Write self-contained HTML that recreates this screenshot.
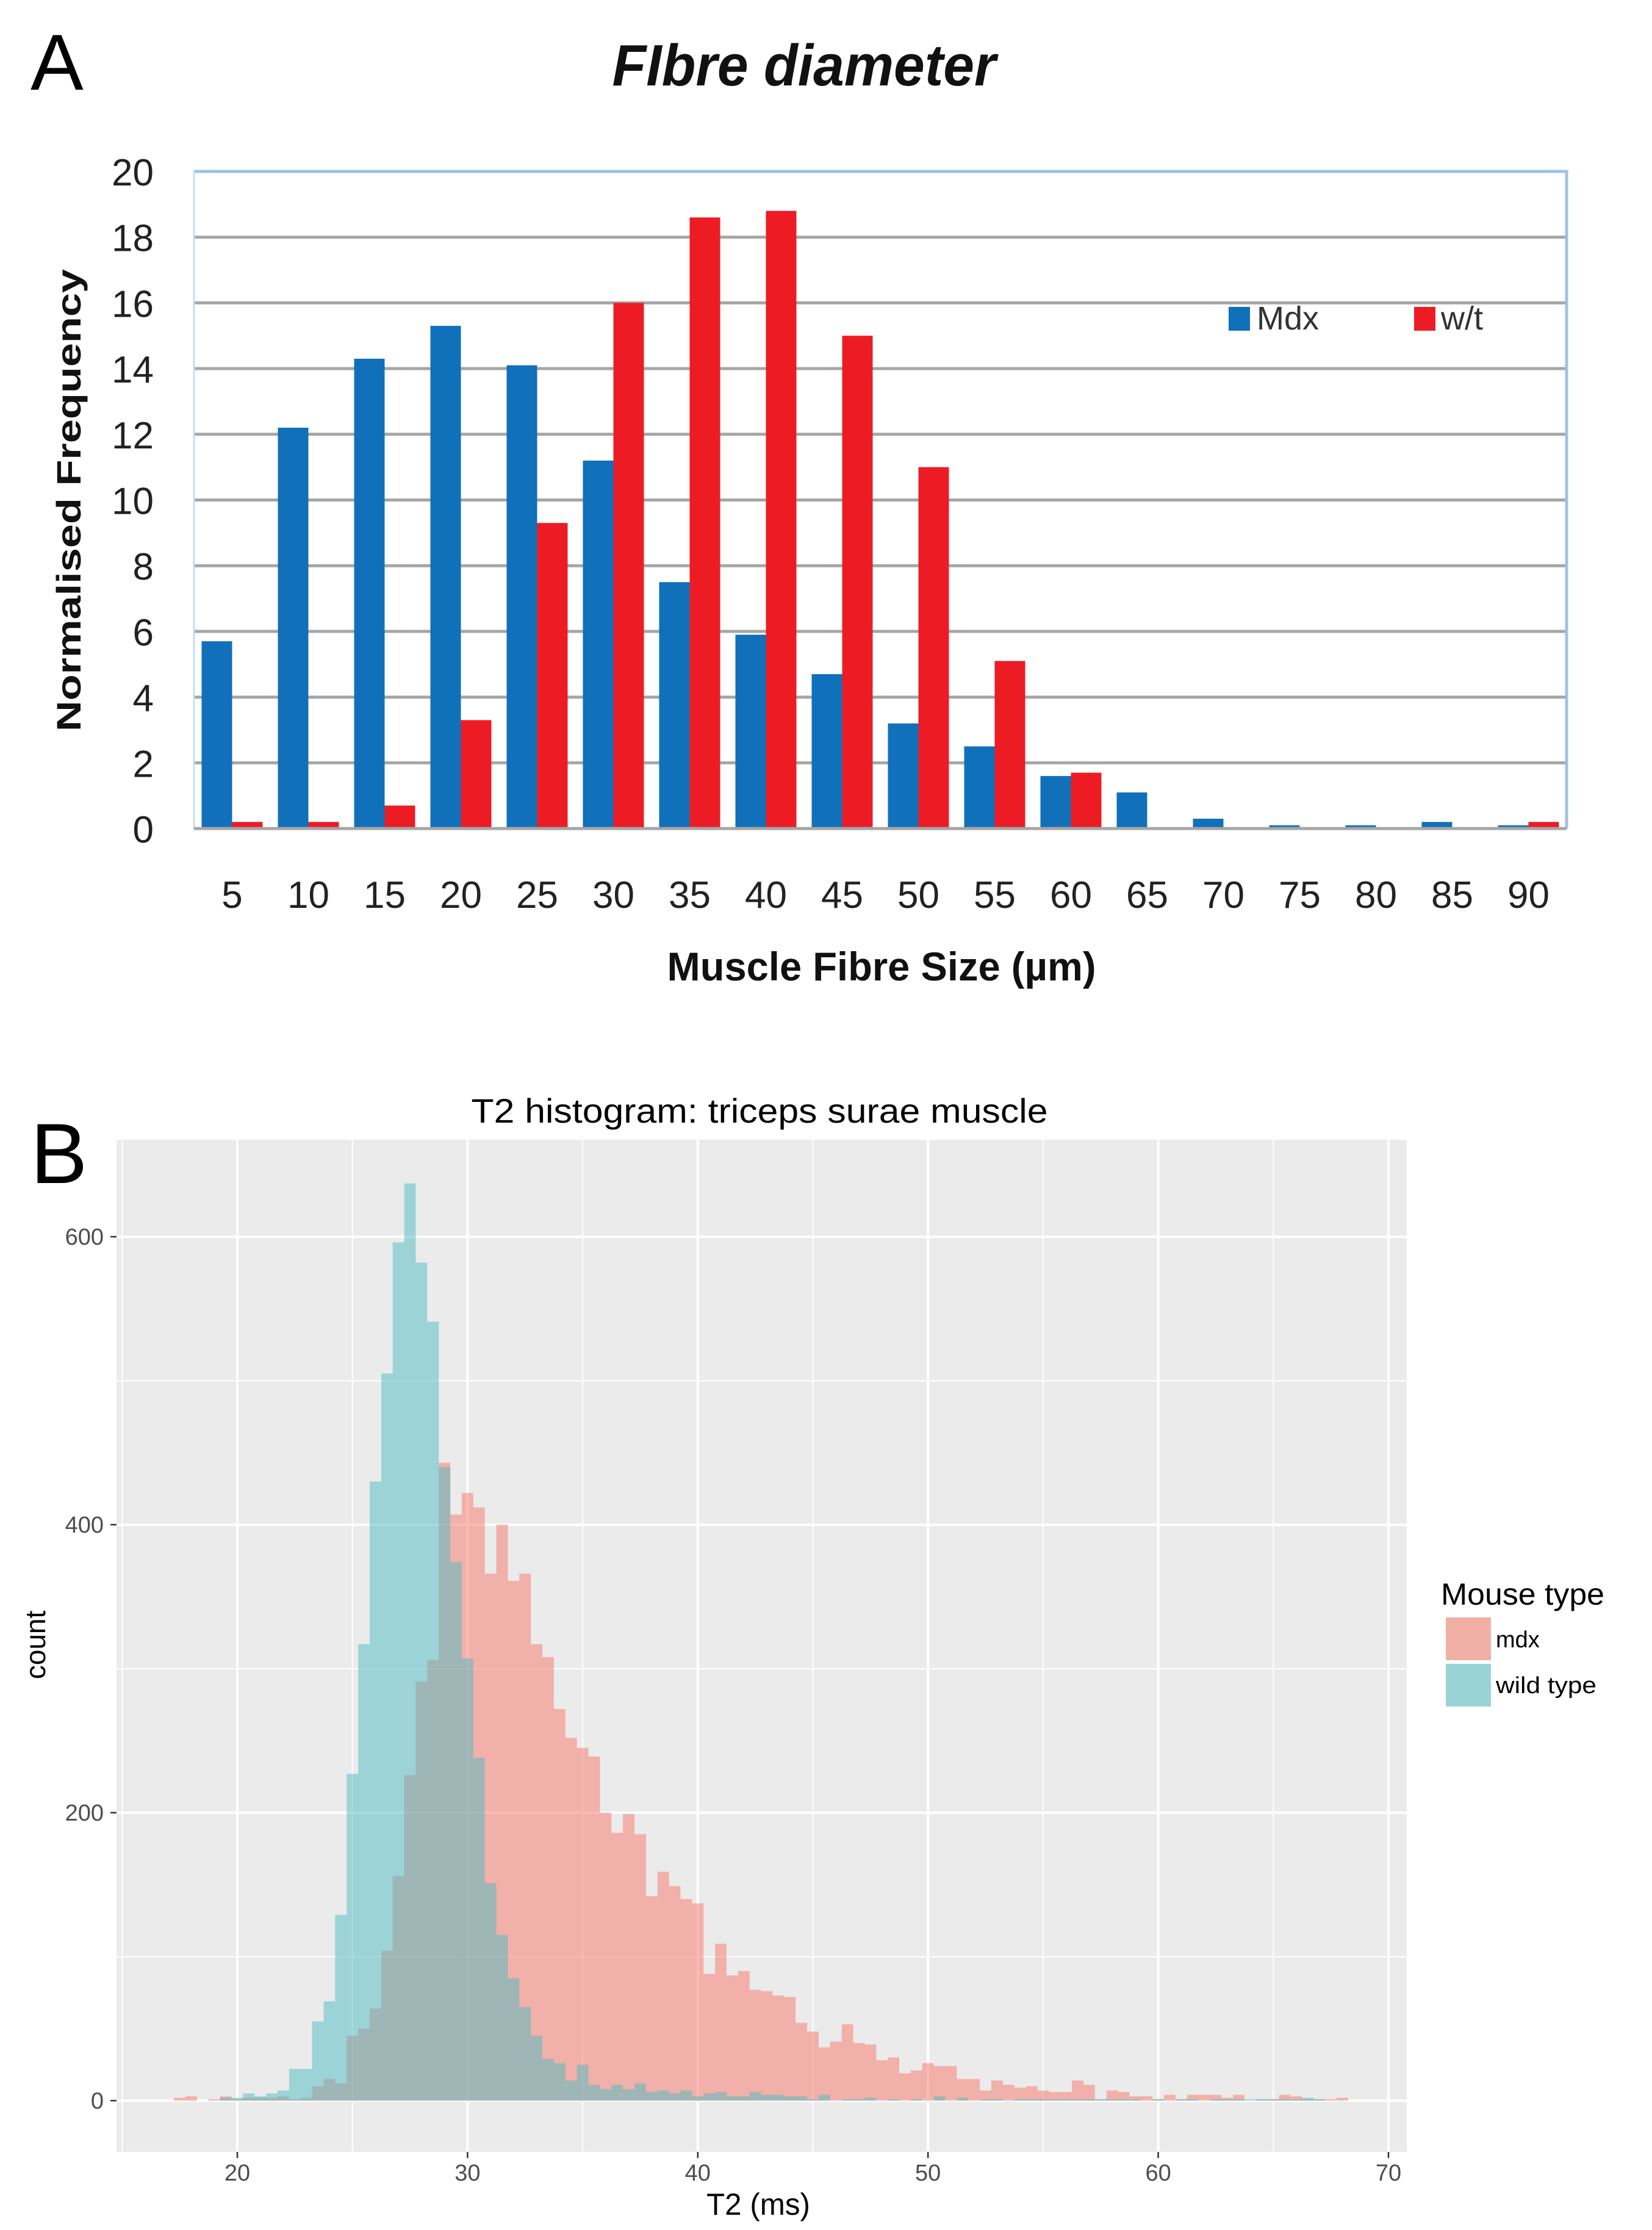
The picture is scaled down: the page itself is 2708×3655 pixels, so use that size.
<!DOCTYPE html>
<html><head><meta charset="utf-8"><style>
html,body{margin:0;padding:0;background:#fff;}
svg{display:block;}
</style></head><body>
<svg id="fig" width="2708" height="3655" viewBox="0 0 2708 3655" xmlns="http://www.w3.org/2000/svg">
<rect width="2708" height="3655" fill="#fff"/>
<g id="panelA">
  <text x="50" y="147" font-family="Liberation Sans Narrow, Liberation Sans, sans-serif" font-size="130" fill="#000">A</text>
  <text x="1318" y="140" text-anchor="middle" font-family="Liberation Sans Narrow, Liberation Sans, sans-serif" font-weight="bold" font-style="italic" font-size="96" textLength="629" lengthAdjust="spacingAndGlyphs" fill="#111">FIbre diameter</text>
  <g id="gridA"></g>
  <g id="barsA"></g>
  <g id="ticksA"></g>
  <text x="1445" y="1607" text-anchor="middle" font-family="Liberation Sans Narrow, Liberation Sans, sans-serif" font-weight="bold" font-size="66" textLength="703" lengthAdjust="spacingAndGlyphs" fill="#111">Muscle Fibre Size (µm)</text>
  <text transform="translate(132,820) rotate(-90)" text-anchor="middle" font-family="Liberation Sans, sans-serif" font-weight="bold" font-size="56" textLength="758" lengthAdjust="spacingAndGlyphs" fill="#111">Normalised Frequency</text>
  <g>
    <rect x="2014" y="503" width="35" height="39" fill="#1170BA"/>
    <text x="2060" y="540" font-family="Liberation Sans Narrow, Liberation Sans, sans-serif" font-size="54" fill="#333">Mdx</text>
    <rect x="2318" y="503" width="35" height="39" fill="#ED1C24"/>
    <text x="2362" y="540" font-family="Liberation Sans Narrow, Liberation Sans, sans-serif" font-size="54" fill="#333">w/t</text>
  </g>
</g>
<g id="panelB">
  <text x="50" y="1939" font-family="Liberation Sans Narrow, Liberation Sans, sans-serif" font-size="140" fill="#000">B</text>
  <text x="1245" y="1840" text-anchor="middle" font-family="Liberation Sans, sans-serif" font-size="56" textLength="945" lengthAdjust="spacingAndGlyphs" fill="#000">T2 histogram: triceps surae muscle</text>
  <rect x="191" y="1868" width="2115" height="1659" fill="#EBEBEB"/>
  <g id="gridB"></g>
  <g id="barsB"></g>
  <g id="ticksB"></g>
  <text x="1243" y="3630" text-anchor="middle" font-family="Liberation Sans, sans-serif" font-size="50" textLength="170" lengthAdjust="spacingAndGlyphs" fill="#000">T2 (ms)</text>
  <text transform="translate(74,2696) rotate(-90)" text-anchor="middle" font-family="Liberation Sans, sans-serif" font-size="46" fill="#000">count</text>
  <g>
    <text x="2362" y="2630" font-family="Liberation Sans, sans-serif" font-size="50" textLength="268" lengthAdjust="spacingAndGlyphs" fill="#000">Mouse type</text>
    <rect x="2370" y="2651" width="74" height="70" fill="#F1B0A6"/>
    <text x="2452" y="2700" font-family="Liberation Sans, sans-serif" font-size="38" fill="#000">mdx</text>
    <rect x="2370" y="2727" width="74" height="70" fill="#9AD3D6"/>
    <text x="2452" y="2775" font-family="Liberation Sans, sans-serif" font-size="38" textLength="165" lengthAdjust="spacingAndGlyphs" fill="#000">wild type</text>
  </g>
</g>
</svg>
<script>
// ---------- Panel A data ----------
const catsA = [5,10,15,20,25,30,35,40,45,50,55,60,65,70,75,80,85,90];
const mdxA = [5.7,12.2,14.3,15.3,14.1,11.2,7.5,5.9,4.7,3.2,2.5,1.6,1.1,0.3,0.1,0.1,0.2,0.1];
const wtA = [0.2,0.2,0.7,3.3,9.3,16,18.6,18.8,15,11,5.1,1.7,0,0,0,0,0,0.2];
const yTicksA = [0,2,4,6,8,10,12,14,16,18,20];

// ---------- Panel B data ----------
const binStartB = 17.5;
const binWidthB = 0.5;
const mdxB = [2,3,0,1,3,
 1,2,2,2,3,1,2,10,15,12,
 45,50,64,104,156,226,291,306,443,407,
 422,412,366,400,361,366,317,308,272,252,
 245,239,200,186,199,185,142,159,149,140,
 137,88,109,87,90,77,76,73,72,54,
 48,37,41,53,40,39,28,30,19,21,
 26,24,24,15,15,7,14,11,9,10,
 7,6,6,14,11,1,7,6,3,3,
 1,4,1,4,4,4,2,4,0,1,
 1,4,3,1,1,1,2];
const wtB = [0,0,0,0,2,
 2,5,3,5,7,22,22,55,69,129,
 227,317,430,505,596,637,582,541,440,374,
 307,238,151,115,85,65,45,29,26,14,
 25,11,8,11,8,12,6,7,5,7,
 3,5,6,3,3,6,4,4,3,3,
 1,4,0,1,1,2,0,1,0,1,
 0,3,0,2,0,1,1,0,1,1,
 1,1,1,1,1,1,1,1,1,0,
 1,0,1,1,0,1,1,1,1,1,
 1,1,1,2,1,0,0];
const xTicksB = [20,30,40,50,60,70];
const xMinorB = [15,25,35,45,55,65];
const yTicksB = [0,200,400,600];
const yMinorB = [100,300,500];

const NS = "http://www.w3.org/2000/svg";
function mk(tag, attrs, parent){
  const e = document.createElementNS(NS, tag);
  for (const k in attrs) e.setAttribute(k, attrs[k]);
  parent.appendChild(e);
  return e;
}

// ---------- Panel A axes ----------
const aL = 318, aR = 2568, aT = 281, aB = 1358;
const catW = (aR - aL) / catsA.length;
function xA(i){ return aL + (i + 0.5) * catW; }
function yA(v){ return aB - v * (aB - aT) / 20; }

const gridA = document.getElementById('gridA');
yTicksA.forEach(t => {
  const ln = mk('line', {x1: aL, x2: aR, y1: yA(t), y2: yA(t), stroke: '#A6A6A6', 'stroke-width': 5}, gridA);
  
  
});
const borderA = mk('path', {d: `M${aL},${aT} L${aR},${aT} L${aR},${aB}`, fill: 'none', stroke: '#9DC3E6', 'stroke-width': 5}, gridA);


const leftA = mk('line', {x1: aL, x2: aL, y1: aT, y2: aB, stroke: '#C8DCEF', 'stroke-width': 3}, gridA);



const barsA = document.getElementById('barsA');
const bwA = catW * 0.4;
catsA.forEach((c, i) => {
  const cx = xA(i);
  const b = mk('rect', {x: cx - bwA, y: yA(mdxA[i]), width: bwA, height: aB - yA(mdxA[i]), fill: '#1170BA'}, barsA);
  
  
  const r = mk('rect', {x: cx, y: yA(wtA[i]), width: bwA, height: aB - yA(wtA[i]), fill: '#ED1C24'}, barsA);
  
  
});
const baseA = mk('line', {x1: aL, x2: aR, y1: aB, y2: aB, stroke: '#A6A6A6', 'stroke-width': 5}, barsA);



const ticksA = document.getElementById('ticksA');
yTicksA.forEach(t => {
  const tx = mk('text', {x: 252, y: yA(t) + 23, 'text-anchor': 'end', 'font-family': 'Liberation Sans Narrow, Liberation Sans, sans-serif', 'font-size': 62, fill: '#222'}, ticksA);
  tx.textContent = t;
  
  
});
catsA.forEach((c, i) => {
  const tx = mk('text', {x: xA(i), y: 1488, 'text-anchor': 'middle', 'font-family': 'Liberation Sans Narrow, Liberation Sans, sans-serif', 'font-size': 62, fill: '#222'}, ticksA);
  tx.textContent = c;
  
  
});

// ---------- Panel B axes ----------
const bL = 191, bR = 2306, bT = 1868, bB = 3527;
function xB(ms){ return 389 + (ms - 20) * 37.74; }
function yB(c){ return 3443 - c * 2.36; }

const gridB = document.getElementById('gridB');
xMinorB.forEach(t => {
  const l = mk('line', {x1: xB(t), x2: xB(t), y1: bT, y2: bB, stroke: '#fff', 'stroke-width': 2}, gridB);
  
  
});
yMinorB.forEach(t => {
  const l = mk('line', {x1: bL, x2: bR, y1: yB(t), y2: yB(t), stroke: '#fff', 'stroke-width': 2}, gridB);
  
  
});
xTicksB.forEach(t => {
  const l = mk('line', {x1: xB(t), x2: xB(t), y1: bT, y2: bB, stroke: '#fff', 'stroke-width': 4}, gridB);
  
  
});
yTicksB.forEach(t => {
  const l = mk('line', {x1: bL, x2: bR, y1: yB(t), y2: yB(t), stroke: '#fff', 'stroke-width': 4}, gridB);
  
  
});

const barsB = document.getElementById('barsB');
function drawSeries(vals, color, name){
  vals.forEach((v, i) => {
    if (v <= 0) return;
    const c = binStartB + i * binWidthB;
    const x0 = xB(c - binWidthB / 2), x1 = xB(c + binWidthB / 2);
    const r = mk('rect', {x: x0, y: yB(v), width: x1 - x0, height: yB(0) - yB(v), fill: color, 'fill-opacity': 0.5}, barsB);
    
    
  });
}
drawSeries(mdxB, '#F77568', 'mdx');
drawSeries(wtB, '#4BBBC1', 'wildtype');

const ticksB = document.getElementById('ticksB');
xTicksB.forEach(t => {
  const tk = mk('line', {x1: xB(t), x2: xB(t), y1: bB, y2: bB + 10, stroke: '#333', 'stroke-width': 2.5}, ticksB);
  
  
  const tx = mk('text', {x: xB(t), y: 3574, 'text-anchor': 'middle', 'font-family': 'Liberation Sans, sans-serif', 'font-size': 38, fill: '#4D4D4D'}, ticksB);
  tx.textContent = t;
  
  
});
yTicksB.forEach(t => {
  const tk = mk('line', {x1: bL - 10, x2: bL, y1: yB(t), y2: yB(t), stroke: '#333', 'stroke-width': 2.5}, ticksB);
  
  
  const tx = mk('text', {x: 170, y: yB(t) + 13, 'text-anchor': 'end', 'font-family': 'Liberation Sans, sans-serif', 'font-size': 38, fill: '#4D4D4D'}, ticksB);
  tx.textContent = t;
  
  
});
</script>
</body></html>
